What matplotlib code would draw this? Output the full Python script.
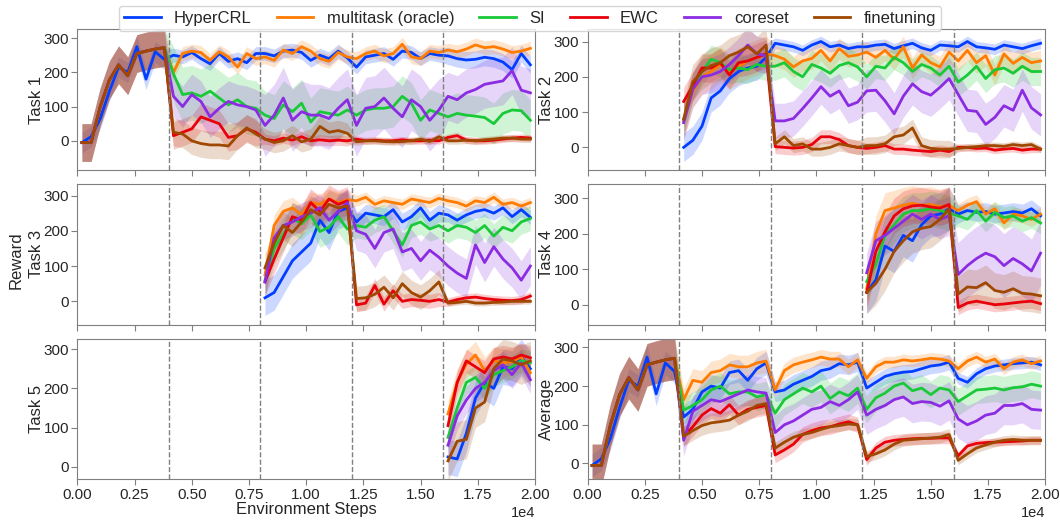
import numpy as np
import matplotlib.pyplot as plt

methods = ['HyperCRL', 'multitask (oracle)', 'SI', 'EWC', 'coreset', 'finetuning']
colors = ['#023eff', '#ff7c00', '#1ac938', '#e8000b', '#8b2be2', '#9f4800']

steps = np.arange(200, 20000, 400)   # evaluation points, 10 per task
task_switches = [4000, 8000, 12000, 16000]

# while training task 1 every baseline is the same run
t1_shared = [-5, -5, 100, 178, 222, 190, 255, 262, 268, 272]

# ---- Task 1 (evaluated from the start) ----
t1_hypercrl = [-5, 12, 65, 145, 215, 200, 275, 180, 260, 238,
               250, 245, 258, 240, 225, 255, 232, 240, 228, 255,
               255, 248, 262, 265, 258, 235, 250, 240, 262, 242,
               215, 245, 250, 255, 238, 262, 258, 240, 255, 250,
               248, 240, 236, 238, 244, 240, 230, 208, 255, 222]
t1_multitask = t1_shared + [200, 255, 262, 258, 235, 260, 245, 215, 255, 240,
                            245, 235, 265, 255, 275, 262, 240, 232, 258, 245,
                            240, 255, 262, 248, 255, 282, 245, 240, 262, 258,
                            265, 260, 268, 280, 272, 275, 268, 258, 262, 270]
t1_si = t1_shared + [195, 135, 140, 130, 145, 125, 105, 120, 100, 95,
                     75, 65, 105, 85, 110, 55, 85, 80, 75, 90,
                     75, 90, 95, 95, 100, 130, 110, 60, 90, 80,
                     70, 80, 75, 72, 68, 50, 80, 90, 88, 60]
t1_ewc = t1_shared + [15, 25, 35, 70, 60, 50, 10, 15, 35, 25,
                      5, 0, 8, 2, 12, 0, 3, 0, 2, 0,
                      5, 0, 2, 0, 0, 3, 0, 0, 2, 0,
                      10, 15, 2, 0, 0, 2, 5, 8, 10, 8]
t1_coreset = t1_shared + [130, 100, 135, 115, 70, 95, 115, 105, 100, 90,
                          45, 75, 125, 60, 85, 75, 75, 65, 95, 120,
                          45, 95, 100, 125, 95, 70, 120, 100, 60, 90,
                          130, 120, 140, 150, 165, 170, 175, 205, 148, 140]
t1_finetuning = t1_shared + [25, 20, 0, -8, -12, -12, -15, 15, 38, 20,
                             5, -5, 0, 15, -3, 5, 42, 25, 30, 22,
                             -3, 0, 0, -2, -3, -2, 0, 5, -2, 12,
                             0, 0, 2, 0, 3, 5, 8, 8, 5, 5]

# ---- Task 2 (from step 4000) ----
t2_hypercrl = [0, 20, 60, 140, 160, 195, 215, 225, 230, 255,
               295, 290, 285, 275, 290, 300, 285, 290, 280, 285,
               285, 290, 292, 280, 288, 295, 282, 275, 290, 288,
               285, 300, 285, 282, 278, 290, 285, 280, 288, 295]
t2_multitask = [75, 160, 200, 215, 235, 215, 230, 245, 255, 265,
                260, 250, 228, 245, 252, 275, 245, 280, 258, 262,
                270, 255, 275, 250, 285, 225, 262, 240, 228, 270,
                245, 275, 240, 260, 205, 265, 238, 255, 240, 245]
t2_si = [80, 170, 215, 250, 240, 220, 225, 220, 235, 230,
         230, 240, 215, 200, 235, 225, 210, 232, 240, 228,
         200, 230, 225, 255, 240, 215, 235, 225, 205, 230,
         185, 205, 230, 195, 220, 225, 210, 230, 215, 215]
t2_ewc = [130, 175, 225, 225, 240, 205, 240, 245, 255, 265,
          2, 0, -2, 0, 8, 30, 30, 22, 5, 0,
          -3, 0, 5, -5, -5, -8, -10, -12, -8, -12,
          0, 0, -3, -2, -8, -5, -3, -8, -5, -5]
t2_coreset = [70, 165, 200, 205, 215, 235, 260, 290, 265, 260,
              75, 75, 82, 110, 140, 172, 145, 160, 118, 128,
              160, 162, 132, 95, 145, 180, 158, 148, 170, 195,
              150, 105, 102, 65, 85, 118, 105, 162, 112, 92]
t2_finetuning = [80, 185, 215, 232, 240, 260, 270, 285, 265, 290,
                 10, 30, 5, 10, -5, -5, 0, 10, 5, 0,
                 5, 5, 10, 30, 35, 55, 5, -3, -5, -5,
                 -3, 0, 2, 5, 5, 3, 8, 5, 8, -5]

# ---- Task 3 (from step 8000) ----
t3_hypercrl = [10, 25, 70, 115, 140, 165, 230, 195, 255, 265,
               225, 250, 245, 240, 260, 225, 240, 265, 230, 250,
               245, 230, 245, 255, 260, 250, 265, 240, 260, 238]
t3_multitask = [75, 215, 255, 265, 245, 280, 275, 290, 280, 288,
                285, 295, 275, 285, 280, 275, 290, 285, 280, 292,
                285, 280, 270, 285, 280, 295, 275, 280, 270, 280]
t3_si = [60, 150, 190, 235, 220, 245, 198, 210, 240, 205,
         215, 210, 230, 240, 200, 160, 215, 225, 205, 215,
         200, 215, 210, 195, 215, 185, 210, 200, 225, 235]
t3_ewc = [55, 120, 180, 240, 230, 280, 255, 290, 275, 285,
          -10, -5, 45, -8, 30, 0, 5, 3, 0, 5,
          -2, 5, 10, 12, 8, 5, 3, 2, 5, 15]
t3_coreset = [55, 180, 215, 225, 240, 250, 265, 230, 255, 280,
              200, 190, 150, 195, 205, 140, 150, 115, 145, 125,
              100, 80, 65, 160, 110, 155, 120, 95, 60, 100]
t3_finetuning = [95, 165, 215, 195, 225, 260, 245, 275, 265, 270,
                 8, 10, 20, 40, 10, 50, 25, 12, 30, 55,
                 -5, -3, 0, -5, -5, -3, -2, 0, 0, 0]

# ---- Task 4 (from step 12000) ----
t4_hypercrl = [35, 70, 165, 150, 195, 180, 225, 250, 255, 270,
               255, 265, 260, 262, 255, 258, 262, 258, 270, 250]
t4_multitask = [45, 200, 265, 272, 280, 285, 280, 282, 275, 280,
                265, 280, 290, 255, 270, 230, 255, 250, 240, 255]
t4_si = [65, 115, 195, 225, 255, 265, 265, 270, 265, 258,
         250, 240, 265, 235, 260, 245, 250, 235, 245, 230]
t4_ewc = [35, 150, 205, 250, 270, 278, 280, 275, 272, 282,
          -8, 5, 10, 5, 0, 2, 5, 8, 10, 3]
t4_coreset = [90, 180, 195, 215, 235, 255, 240, 255, 240, 250,
              85, 110, 130, 145, 135, 110, 130, 115, 95, 145]
t4_finetuning = [35, 60, 100, 150, 180, 205, 215, 220, 240, 270,
                 30, 50, 48, 62, 40, 35, 45, 32, 30, 25]

# ---- Task 5 (from step 16000) ----
t5_hypercrl = [25, 20, 85, 175, 215, 200, 255, 250, 280, 250]
t5_multitask = [135, 215, 262, 285, 245, 270, 265, 268, 280, 240]
t5_si = [75, 150, 215, 228, 200, 235, 245, 255, 270, 265]
t5_ewc = [105, 215, 270, 255, 240, 275, 280, 275, 285, 278]
t5_coreset = [55, 130, 170, 200, 215, 245, 260, 235, 265, 222]
t5_finetuning = [15, 65, 70, 150, 165, 250, 275, 270, 260, 270]

# ---- Average over seen tasks ----
avg_hypercrl = t1_hypercrl[:10] + [120, 140, 185, 200, 195, 235, 240, 215, 245, 260,
                                   185, 190, 205, 215, 225, 240, 245, 258, 255, 262,
                                   195, 210, 225, 232, 236, 238, 245, 252, 255, 262,
                                   220, 210, 232, 245, 252, 255, 258, 260, 262, 255]
avg_multitask = t1_shared + [165, 215, 210, 235, 240, 255, 250, 250, 260, 265,
                             190, 240, 255, 262, 268, 275, 270, 270, 250, 268,
                             220, 250, 262, 262, 268, 265, 268, 272, 270, 265,
                             245, 265, 275, 262, 270, 245, 262, 268, 258, 265]
avg_si = t1_shared + [138, 150, 165, 190, 200, 180, 185, 185, 172, 178,
                      130, 165, 180, 195, 185, 200, 168, 185, 175, 195,
                      140, 170, 182, 200, 208, 188, 195, 178, 195, 190,
                      160, 175, 190, 192, 195, 190, 196, 198, 205, 200]
avg_ewc = t1_shared + [70, 95, 125, 142, 130, 152, 125, 140, 145, 150,
                       22, 35, 50, 75, 85, 92, 95, 102, 108, 100,
                       10, 40, 55, 60, 62, 64, 65, 65, 66, 66,
                       20, 45, 52, 54, 55, 56, 57, 58, 60, 60]
avg_coreset = t1_shared + [60, 135, 150, 165, 160, 170, 180, 190, 185, 182,
                           80, 100, 110, 125, 140, 145, 160, 150, 165, 185,
                           125, 140, 150, 165, 172, 155, 160, 158, 148, 162,
                           115, 100, 110, 125, 130, 150, 150, 155, 140, 138]
avg_finetuning = t1_shared + [70, 85, 98, 105, 108, 112, 125, 135, 150, 155,
                              40, 55, 68, 75, 80, 88, 95, 98, 102, 100,
                              18, 25, 35, 50, 60, 62, 64, 66, 68, 75,
                              8, 25, 40, 48, 55, 60, 62, 60, 60, 60]

# half width of the shaded band, one value per task phase
band_t1 = [[30, 20, 20, 20, 25], [55, 20, 20, 20, 20], [55, 80, 70, 60, 60],
           [55, 40, 15, 10, 10], [55, 60, 90, 90, 70], [55, 40, 30, 10, 10]]
band_t2 = [[40, 15, 15, 15], [50, 30, 30, 30], [40, 40, 35, 40],
           [40, 20, 15, 10], [50, 50, 60, 60], [50, 20, 25, 10]]
band_t3 = [[50, 25, 20], [30, 15, 15], [45, 35, 35],
           [40, 20, 12], [40, 55, 55], [40, 35, 8]]
band_t4 = [[60, 25], [50, 20], [50, 30], [50, 20], [55, 90], [60, 50]]
band_t5 = [[45], [35], [30], [30], [35], [50]]
band_avg = [[30, 30, 25, 20, 15], [55, 30, 20, 15, 15], [55, 35, 40, 35, 35],
            [55, 25, 20, 15, 10], [55, 40, 45, 50, 50], [55, 25, 15, 15, 12]]


def plot_panel(ax, series, bands, first_phase, ylabel, ylim):
    """Draw one panel: mean curve plus shaded band for every method."""
    x = steps[first_phase * 10:]
    for y, band, c, name in zip(series, bands, colors, methods):
        y = np.asarray(y, dtype=float)
        s = np.repeat(band, 10)
        ax.fill_between(x, y - s, y + s, color=c, alpha=0.2, linewidth=0)
        ax.plot(x, y, color=c, linewidth=2, label=name)
    for sw in task_switches:
        ax.axvline(sw, color='grey', linestyle='--', linewidth=1)
    ax.set_ylabel(ylabel, fontsize=12, labelpad=0)
    ax.set_ylim(*ylim)
    ax.set_yticks([0, 100, 200, 300])


plt.rcParams['font.family'] = ['Liberation Sans', 'DejaVu Sans']
plt.rcParams['axes.edgecolor'] = '#7f7f7f'
plt.rcParams['text.color'] = '#262626'
plt.rcParams['xtick.color'] = '#262626'
plt.rcParams['ytick.color'] = '#262626'
plt.rcParams['axes.labelcolor'] = '#262626'

fig, axes = plt.subplots(3, 2, figsize=(10.6, 5.21), dpi=100, sharex=True)
fig.subplots_adjust(left=0.073, right=0.986, top=0.944, bottom=0.08,
                    wspace=0.115, hspace=0.099)

plot_panel(axes[0, 0], [t1_hypercrl, t1_multitask, t1_si, t1_ewc, t1_coreset, t1_finetuning],
           band_t1, 0, 'Task 1', (-85, 326))
plot_panel(axes[0, 1], [t2_hypercrl, t2_multitask, t2_si, t2_ewc, t2_coreset, t2_finetuning],
           band_t2, 1, 'Task 2', (-64, 335))
plot_panel(axes[1, 0], [t3_hypercrl, t3_multitask, t3_si, t3_ewc, t3_coreset, t3_finetuning],
           band_t3, 2, 'Task 3', (-66, 333))
plot_panel(axes[1, 1], [t4_hypercrl, t4_multitask, t4_si, t4_ewc, t4_coreset, t4_finetuning],
           band_t4, 3, 'Task 4', (-56, 340))
plot_panel(axes[2, 0], [t5_hypercrl, t5_multitask, t5_si, t5_ewc, t5_coreset, t5_finetuning],
           band_t5, 4, 'Task 5', (-32, 327))
plot_panel(axes[2, 1], [avg_hypercrl, avg_multitask, avg_si, avg_ewc, avg_coreset, avg_finetuning],
           band_avg, 0, 'Average', (-41, 323))

for ax in axes.flat:
    ax.set_xlim(0, 20000)
    ax.set_xticks(np.arange(0, 20001, 2500))
    ax.ticklabel_format(axis='x', style='sci', scilimits=(0, 0))
    ax.tick_params(labelsize=11, length=4, pad=2, color='#7f7f7f')
    ax.xaxis.get_offset_text().set_fontsize(10.5)
axes[2, 0].set_xlabel('Environment Steps', fontsize=12, labelpad=0)
fig.text(0.015, 0.5, 'Reward', rotation=90, va='center', ha='center', fontsize=12)

handles, labels = axes[0, 0].get_legend_handles_labels()
fig.legend(handles, labels, loc='upper center', bbox_to_anchor=(0.5, 1.005), ncol=6,
           fontsize=12, frameon=True, handlelength=2.2, columnspacing=1.5,
           borderpad=0.3)

fig.savefig('out.png', dpi=100)
